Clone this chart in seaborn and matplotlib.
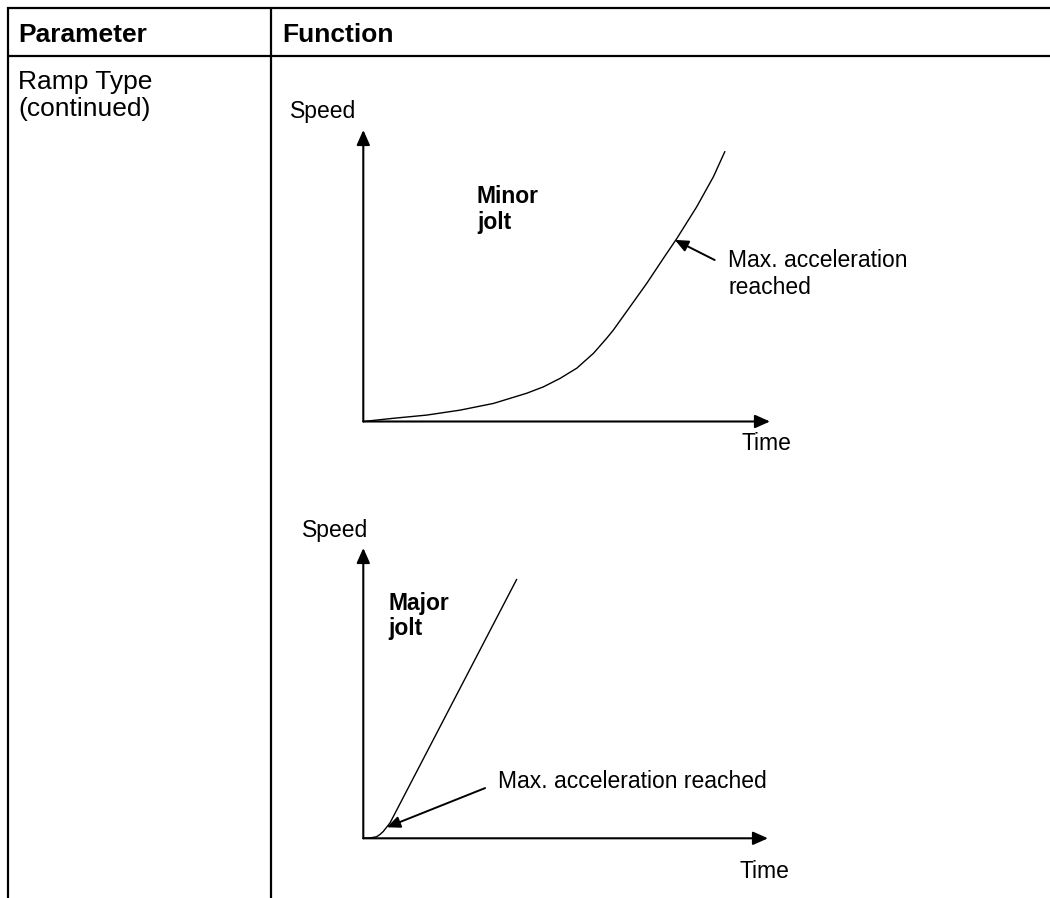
import matplotlib
matplotlib.use("Agg")
import matplotlib.pyplot as plt
import seaborn as sns
import pandas as pd

sns.set_theme(style="white")
plt.rcParams["font.family"] = ["Liberation Sans", "DejaVu Sans"]
plt.rcParams["text.color"] = "black"

# ---- data (time / speed in arbitrary units, 0..10 axes) ----
minor_time = [0.0, 0.74, 1.56, 2.38, 3.20, 4.02, 4.43, 4.84, 5.25, 5.66,
              5.98, 6.15, 6.56, 6.97, 7.38, 7.71, 8.20, 8.61, 8.89]
minor_speed = [0.0, 0.11, 0.22, 0.39, 0.62, 0.97, 1.19, 1.48, 1.83, 2.34,
               2.85, 3.14, 3.94, 4.74, 5.60, 6.28, 7.37, 8.40, 9.26]
major_time = [0.0, 0.20, 0.33, 0.41, 0.49, 0.66, 3.79]
major_speed = [0.0, 0.02, 0.055, 0.13, 0.23, 0.53, 8.92]

minor_maxacc = (7.66, 6.23)
major_maxacc = (0.58, 0.38)

header_labels = ["Parameter", "Function"]
param_lines = ["Ramp Type", "(continued)"]
axis_x_label = "Time"
axis_y_label = "Speed"
minor_label = ["Minor", "jolt"]
major_label = ["Major", "jolt"]
maxacc_minor_lines = ["Max. acceleration", "reached"]
maxacc_major_text = "Max. acceleration reached"

W, H = 1050, 898
fig = plt.figure(figsize=(W / 100, H / 100), dpi=100)
fig.patch.set_facecolor("white")

# background axes in pixel coordinates for the table layout
bg = fig.add_axes([0, 0, 1, 1])
bg.set_xlim(0, W)
bg.set_ylim(H, 0)
bg.axis("off")

lw_table = 1.6
bg.plot([6.5, W + 5], [7.5, 7.5], color="black", lw=lw_table, solid_capstyle="butt")
bg.plot([6.5, W + 5], [55.5, 55.5], color="black", lw=lw_table, solid_capstyle="butt")
bg.plot([7.5, 7.5], [6.5, H + 5], color="black", lw=lw_table, solid_capstyle="butt")
bg.plot([270.5, 270.5], [6.5, H + 5], color="black", lw=lw_table, solid_capstyle="butt")

hfs = 19
bg.text(18, 42, header_labels[0], fontsize=hfs, fontweight="bold", va="baseline", ha="left")
bg.text(282, 42, header_labels[1], fontsize=hfs, fontweight="bold", va="baseline", ha="left")
bg.text(18, 89, param_lines[0], fontsize=hfs, va="baseline", ha="left")
bg.text(18, 116, param_lines[1], fontsize=hfs, va="baseline", ha="left")

fs = 16.5
bg.text(290, 118, axis_y_label, fontsize=fs, va="baseline", ha="left")
bg.text(742, 450, axis_x_label, fontsize=fs, va="baseline", ha="left")
bg.text(477, 203, minor_label[0], fontsize=fs, fontweight="bold", va="baseline", ha="left")
bg.text(477, 229, minor_label[1], fontsize=fs, fontweight="bold", va="baseline", ha="left")
bg.text(728, 267, maxacc_minor_lines[0], fontsize=fs, va="baseline", ha="left")
bg.text(728, 294, maxacc_minor_lines[1], fontsize=fs, va="baseline", ha="left")

bg.text(302, 537, axis_y_label, fontsize=fs, va="baseline", ha="left")
bg.text(740, 878, axis_x_label, fontsize=fs, va="baseline", ha="left")
bg.text(388, 610, major_label[0], fontsize=fs, fontweight="bold", va="baseline", ha="left")
bg.text(388, 635, major_label[1], fontsize=fs, fontweight="bold", va="baseline", ha="left")
bg.text(498, 788, maxacc_major_text, fontsize=fs, va="baseline", ha="left")


def diagram(rect, t, s, tip, tail):
    ax = fig.add_axes(rect)
    ax.set_xlim(0, 10)
    ax.set_ylim(0, 10)
    ax.axis("off")
    ax.patch.set_alpha(0)
    df = pd.DataFrame({"time": t, "speed": s})
    sns.lineplot(data=df, x="time", y="speed", ax=ax, color="black", lw=1.0,
                 sort=False, estimator=None, clip_on=False)
    axis_arrow = dict(arrowstyle="-|>,head_length=0.9,head_width=0.4",
                      mutation_scale=10, color="black", lw=1.5, shrinkA=0, shrinkB=0)
    ax.annotate("", xy=(10, 0), xytext=(0, 0), arrowprops=axis_arrow, annotation_clip=False)
    ax.annotate("", xy=(0, 10), xytext=(0, 0), arrowprops=axis_arrow, annotation_clip=False)
    ptr = dict(arrowstyle="-|>,head_length=0.8,head_width=0.35",
               mutation_scale=10, color="black", lw=1.4, shrinkA=0, shrinkB=0)
    ax.annotate("", xy=tip, xytext=tail, arrowprops=ptr, annotation_clip=False)
    return ax


# diagram 1: origin (363.3, 421.5) px, x-end 770, y-top 130
diagram([363.3 / W, 1 - 421.5 / H, (770 - 363.3) / W, (421.5 - 130) / H],
        minor_time, minor_speed, minor_maxacc, (8.64, 5.54))
# diagram 2: origin (363.3, 838.3) px, x-end 768, y-top 548
diagram([363.3 / W, 1 - 838.3 / H, (768 - 363.3) / W, (838.3 - 548) / H],
        major_time, major_speed, major_maxacc, (3.01, 1.73))

fig.savefig("out.png", dpi=100, facecolor="white")
